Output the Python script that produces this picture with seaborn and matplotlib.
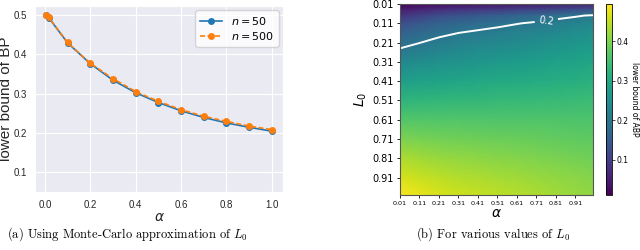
import numpy as np
import pandas as pd
import seaborn as sns
import matplotlib.pyplot as plt

# ---- left panel: lower bound of BP vs alpha (Monte-Carlo L0)
alpha_pts = [0.006, 0.017, 0.1, 0.2, 0.3, 0.4, 0.5, 0.6, 0.7, 0.8, 0.9, 1.0]
bound_n50 = [0.500, 0.493, 0.429, 0.376, 0.334, 0.302, 0.277, 0.256, 0.239, 0.225, 0.214, 0.204]
bound_n500 = [0.500, 0.494, 0.430, 0.377, 0.338, 0.305, 0.280, 0.259, 0.242, 0.229, 0.217, 0.208]

# ---- right panel: lower bound of ABP on an (L0, alpha) grid
alpha_grid = [0.01, 0.11, 0.21, 0.31, 0.41, 0.51, 0.61, 0.71, 0.81, 0.91, 1.0]
L0_grid = [0.01, 0.04, 0.07, 0.11, 0.16, 0.21, 0.26, 0.31, 0.41, 0.51, 0.61, 0.71, 0.81, 0.91, 1.0]
abp = [
    [0.012, 0.020, 0.027, 0.032, 0.036, 0.040, 0.044, 0.048, 0.052, 0.056, 0.060],
    [0.050, 0.063, 0.076, 0.084, 0.090, 0.096, 0.103, 0.109, 0.116, 0.124, 0.130],
    [0.085, 0.104, 0.123, 0.135, 0.145, 0.155, 0.164, 0.174, 0.185, 0.195, 0.205],
    [0.125, 0.143, 0.160, 0.171, 0.180, 0.189, 0.198, 0.206, 0.216, 0.226, 0.235],
    [0.160, 0.175, 0.190, 0.200, 0.208, 0.215, 0.223, 0.230, 0.239, 0.247, 0.255],
    [0.185, 0.199, 0.212, 0.221, 0.228, 0.234, 0.241, 0.248, 0.256, 0.263, 0.270],
    [0.210, 0.222, 0.233, 0.241, 0.247, 0.252, 0.258, 0.264, 0.271, 0.277, 0.283],
    [0.235, 0.245, 0.254, 0.260, 0.265, 0.270, 0.275, 0.279, 0.285, 0.290, 0.295],
    [0.280, 0.286, 0.292, 0.296, 0.299, 0.302, 0.305, 0.308, 0.312, 0.315, 0.318],
    [0.325, 0.327, 0.330, 0.331, 0.332, 0.334, 0.335, 0.336, 0.337, 0.339, 0.340],
    [0.365, 0.364, 0.363, 0.363, 0.362, 0.362, 0.362, 0.361, 0.361, 0.360, 0.360],
    [0.400, 0.396, 0.392, 0.390, 0.388, 0.386, 0.384, 0.382, 0.379, 0.377, 0.375],
    [0.435, 0.428, 0.421, 0.416, 0.413, 0.409, 0.405, 0.402, 0.398, 0.394, 0.390],
    [0.465, 0.455, 0.446, 0.440, 0.435, 0.430, 0.425, 0.421, 0.415, 0.410, 0.405],
    [0.490, 0.478, 0.466, 0.459, 0.453, 0.447, 0.441, 0.435, 0.428, 0.421, 0.415],
]
tick_vals = [0.01, 0.11, 0.21, 0.31, 0.41, 0.51, 0.61, 0.71, 0.81, 0.91]

fig = plt.figure(figsize=(6.4, 2.5), dpi=100)

###########################################
#               left plot                 #
###########################################
with sns.axes_style('darkgrid'):
    ax1 = fig.add_axes([0.0547, 0.232, 0.3875, 0.744])

df = pd.DataFrame({
    'alpha': alpha_pts * 2,
    'bound': bound_n50 + bound_n500,
    'n': ['50'] * len(alpha_pts) + ['500'] * len(alpha_pts),
})

g = sns.lineplot(data=df, x='alpha', y='bound', hue='n', style='n',
                 palette=['#1f77b4', '#ff7f0e'],
                 markers=['o', 'o'], dashes=['', (3, 1.5)],
                 markersize=5, markeredgewidth=0, linewidth=1.2,
                 ax=ax1)
g.set_ylim(0.049, 0.523)
g.set_yticks([0.1, 0.2, 0.3, 0.4, 0.5])
g.set_xticks([0.0, 0.2, 0.4, 0.6, 0.8, 1.0])
for lab in g.get_xticklabels() + g.get_yticklabels():
    lab.set_fontfamily('Liberation Sans')
    lab.set_fontsize(7)
g.tick_params(pad=2)
g.set_xlabel(r'$\alpha$', fontsize=10, labelpad=0)
g.set_ylabel('lower bound of BP', fontfamily='Liberation Sans', fontsize=11)
g.yaxis.set_label_coords(-0.087, 0.5)
handles, _ = g.get_legend_handles_labels()
g.legend(handles, ['$n=50$', '$n=500$'], loc='upper right', fontsize=8,
         handlelength=2.0, borderaxespad=0.4, labelspacing=0.3)

###########################################
#               right plot                #
###########################################
ax2 = fig.add_axes([0.625, 0.22, 0.3016, 0.764])
ax2.grid(False)
Z = np.array(abp)
mesh = ax2.pcolormesh(alpha_grid, L0_grid, Z, shading='gouraud',
                      cmap='viridis', vmin=0.01, vmax=0.495)
cs = ax2.contour(alpha_grid, L0_grid, Z, levels=[0.2], colors='white',
                 linewidths=1.4)
ax2.clabel(cs, fmt='%.1f', fontsize=7, inline=True, inline_spacing=4,
           manual=[(0.76, 0.09)])
ax2.set_xlim(0.01, 1.0)
ax2.set_ylim(1.0, 0.01)
ax2.set_xticks(tick_vals)
ax2.set_xticklabels(['%.2f' % v for v in tick_vals], fontsize=4.6)
ax2.set_yticks(tick_vals)
ax2.set_yticklabels(['%.2f' % v for v in tick_vals], fontsize=7)
ax2.tick_params(length=2.5, width=0.6, pad=2)
for s in ax2.spines.values():
    s.set_color('#555555')
    s.set_linewidth(0.8)
ax2.set_xlabel(r'$\alpha$', fontsize=10, labelpad=0)
ax2.set_ylabel(r'$L_0$', fontsize=10, labelpad=2)

cax = fig.add_axes([0.947, 0.22, 0.0094, 0.764])
cb = fig.colorbar(mesh, cax=cax)
cb.set_ticks([0.1, 0.2, 0.3, 0.4])
cb.ax.tick_params(labelsize=5.5, length=2, width=0.5, pad=1.5)
cb.outline.set_linewidth(0.6)
cb.set_label('lower bound of ABP', fontsize=5.5, rotation=270, labelpad=7)

###########################################
#                captions                 #
###########################################
fig.text(0.011, 0.048, '(a) Using Monte-Carlo approximation of $L_0$',
         fontfamily='cmr10', math_fontfamily='cm', fontsize=9)
fig.text(0.65, 0.048, '(b) For various values of $L_0$',
         fontfamily='cmr10', math_fontfamily='cm', fontsize=9)

fig.savefig('out.png', dpi=100)
